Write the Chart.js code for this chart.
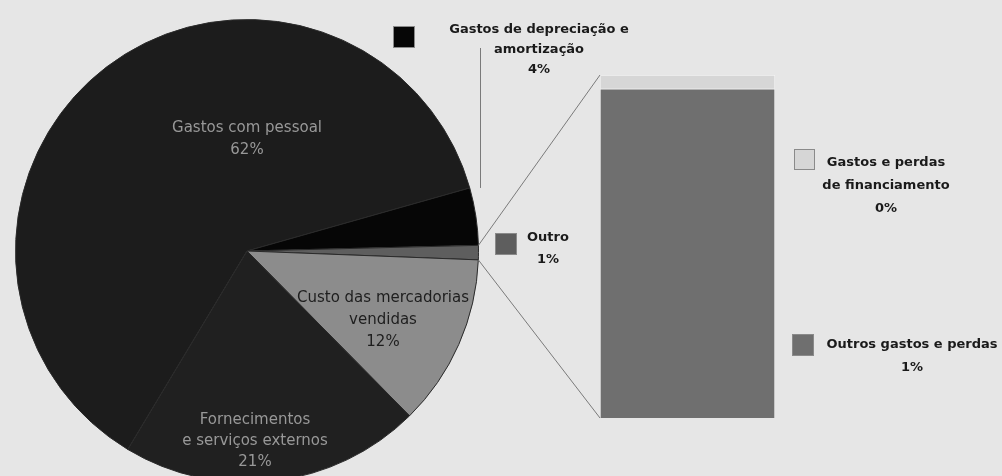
<!DOCTYPE html>
<html>
<head>
<meta charset="utf-8">
<script src="https://cdn.jsdelivr.net/npm/chart.js@4.4.0/dist/chart.umd.min.js"></script>
<style>
  html, body { margin: 0; padding: 0; background: #e6e6e6; overflow: hidden; }
  .wrap { position: relative; width: 1002px; height: 476px; overflow: hidden; }
  .layer { position: absolute; left: 0; top: 0; width: 1002px; height: 476px; }
  .layer.tall { height: 500px; }
</style>
</head>
<body>
<div class="wrap">
  <div class="layer tall"><canvas id="pieChart"></canvas></div>
  <div class="layer"><canvas id="barChart"></canvas></div>
</div>
<script>
// pie: shares of total costs (%)
const pieLabels = ['Gastos com pessoal', 'Gastos de depreciação e amortização', 'Outro', 'Custo das mercadorias vendidas', 'Fornecimentos e serviços externos']
const pieValues = [62, 4, 1, 12, 21]
const pieColors = ['#1c1c1c', '#060606', '#5e5e5e', '#8c8c8c', '#202020']

// bar: breakdown of "Outro" (% of total)
const barLabels = ['Outros gastos e perdas', 'Gastos e perdas de financiamento']
const barValues = [0.96, 0.04]
const barColors = ['#6f6f6f', '#d6d6d6']

const FONT = '"DejaVu Sans", sans-serif'

function pct(v) {
    return Math.round(v) + '%'
}

function drawLines(ctx, lines, x, y, gap) {
    lines.forEach((line, i) => ctx.fillText(line, x, y + i * gap))
}

function square(ctx, x, y, size, color) {
    ctx.fillStyle = color
    ctx.fillRect(x, y, size, size)
    ctx.strokeStyle = '#8a8a8a'
    ctx.lineWidth = 1
    ctx.strokeRect(x + 0.5, y + 0.5, size - 1, size - 1)
}

const pieLabelPlugin = {
    id: 'pieLabels',
    afterDatasetsDraw(chart) {
        const ctx = chart.ctx
        const arcs = chart.getDatasetMeta(0).data
        ctx.save()
        ctx.textAlign = 'center'
        ctx.textBaseline = 'middle'

        // labels inside the pie
        ctx.font = '15px ' + FONT
        ctx.fillStyle = '#989898'
        drawLines(ctx, ['Gastos com pessoal', pct(pieValues[0])], 247, 128, 22)
        drawLines(ctx, ['Fornecimentos', 'e serviços externos', pct(pieValues[4])], 255, 420, 21)
        ctx.fillStyle = '#1e1e1e'
        drawLines(ctx, ['Custo das mercadorias', 'vendidas', pct(pieValues[3])], 383, 298, 22)

        // leader line for depreciation
        const dep = arcs[1]
        const top = dep.y + Math.sin(dep.startAngle) * dep.outerRadius
        const px = dep.x + dep.outerRadius
        ctx.strokeStyle = '#7a7a7a'
        ctx.lineWidth = 1
        ctx.beginPath()
        ctx.moveTo(Math.round(px) + 1.5, 48)
        ctx.lineTo(Math.round(px) + 1.5, top)
        ctx.stroke()

        // outside labels
        ctx.font = 'bold 13px ' + FONT
        square(ctx, 393, 26, 22, pieColors[1])
        ctx.fillStyle = '#1a1a1a'
        drawLines(ctx, ['Gastos de depreciação e', 'amortização', pct(pieValues[1])], 539, 30, 20)
        square(ctx, 495, 233, 22, pieColors[2])
        ctx.fillStyle = '#1a1a1a'
        drawLines(ctx, ['Outro', pct(pieValues[2])], 548, 238, 22)
        ctx.restore()
    }
}

const pieChart = new Chart(document.getElementById('pieChart'), {
    type: 'pie',
    data: {
        labels: pieLabels,
        datasets: [{
            data: pieValues,
            backgroundColor: pieColors,
            borderColor: '#2a2a2a',
            borderWidth: 1
        }]
    },
    options: {
        responsive: true,
        maintainAspectRatio: false,
        animation: false,
        rotation: 211,
        layout: { padding: { left: 15, top: 19, right: 523, bottom: 17 } },
        plugins: {
            legend: { display: false },
            tooltip: { enabled: false }
        }
    },
    plugins: [pieLabelPlugin]
})

const barLabelPlugin = {
    id: 'barLabels',
    afterDraw(chart) {
        const ctx = chart.ctx
        const area = chart.chartArea
        const outro = pieChart.getDatasetMeta(0).data[2]
        ctx.save()

        // connector lines from "Outro" slice to the bar
        const a1 = outro.startAngle
        const a2 = outro.endAngle
        const r = outro.outerRadius
        ctx.strokeStyle = '#7a7a7a'
        ctx.lineWidth = 1
        ctx.beginPath()
        ctx.moveTo(outro.x + Math.cos(a1) * r, outro.y + Math.sin(a1) * r)
        ctx.lineTo(area.left, area.top)
        ctx.moveTo(outro.x + Math.cos(a2) * r, outro.y + Math.sin(a2) * r)
        ctx.lineTo(area.left, area.bottom)
        ctx.stroke()

        // labels right of the bar
        ctx.textAlign = 'center'
        ctx.textBaseline = 'middle'
        ctx.font = 'bold 13px ' + FONT
        square(ctx, 794, 149, 21, barColors[1])
        ctx.fillStyle = '#1a1a1a'
        drawLines(ctx, ['Gastos e perdas', 'de financiamento', pct(barValues[1])], 886, 163, 23)
        square(ctx, 792, 334, 22, barColors[0])
        ctx.fillStyle = '#1a1a1a'
        drawLines(ctx, [barLabels[0], pct(barValues[0])], 912, 345, 23)
        ctx.restore()
    }
}

new Chart(document.getElementById('barChart'), {
    type: 'bar',
    data: {
        labels: ['Outro'],
        datasets: barLabels.map((label, i) => ({
            label: label,
            data: [barValues[i]],
            backgroundColor: barColors[i],
            borderColor: '#f2f2f2',
            borderWidth: 1,
            barPercentage: 1,
            categoryPercentage: 1
        }))
    },
    options: {
        responsive: true,
        maintainAspectRatio: false,
        animation: false,
        layout: { padding: { left: 600, right: 227, top: 75, bottom: 58 } },
        scales: {
            x: { display: false, stacked: true },
            y: { display: false, stacked: true, min: 0, max: 1 }
        },
        plugins: {
            legend: { display: false },
            tooltip: { enabled: false }
        }
    },
    plugins: [barLabelPlugin]
})
</script>
</body>
</html>
